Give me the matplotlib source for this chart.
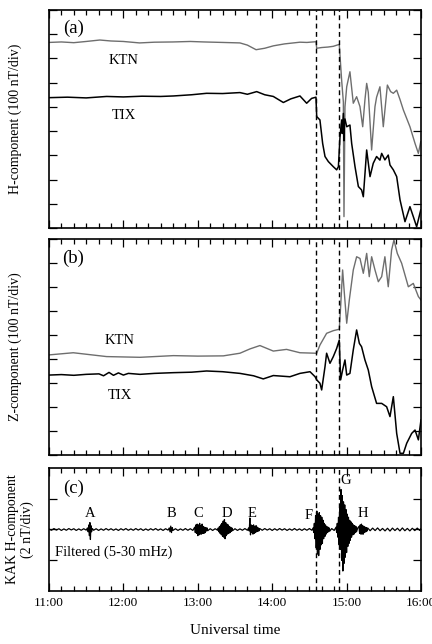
import numpy as np
import matplotlib.pyplot as plt
from matplotlib.ticker import MultipleLocator, FixedLocator

plt.rcParams['font.family'] = ['Liberation Serif', 'DejaVu Serif']

# ---------------------------
# data (minutes after 11:00 UT, values in divisions / nT)
# ---------------------------

ktn_h_t = [0, 10, 20, 30, 41, 50, 60, 73, 85, 100, 114, 125, 140, 154, 160, 167, 174, 181,
           190, 202.4, 208, 215.3, 215.9, 220, 225, 229.3, 234.1, 236.0, 237.4, 237.9, 238.7,
           240.1, 242.7, 245.4, 248.1, 250.8, 253.0, 254.8, 256.2, 257.5, 260.2, 262.9,
           264.2, 266.9, 269.6, 272.9, 275.5, 277.7, 280.4, 283.1, 285.8, 291.1, 295.2,
           297.9, 299.8]
ktn_h_v = [7.66, 7.68, 7.65, 7.70, 7.76, 7.72, 7.70, 7.64, 7.67, 7.68, 7.70, 7.68, 7.66, 7.64,
           7.55, 7.36, 7.42, 7.52, 7.60, 7.67, 7.66, 7.69, 7.42, 7.45, 7.47, 7.50, 7.58,
           6.11, 5.20, 0.47, 5.00, 5.83, 6.45, 5.15, 5.42, 5.01, 4.18, 5.29, 5.97, 5.60,
           3.22, 5.01, 5.40, 5.83, 4.18, 5.90, 5.63, 5.56, 5.69, 5.30, 4.87, 4.18, 3.49,
           3.08, 3.56]

tix_h_t = [0, 15, 30, 46.5, 60, 75, 90, 100.3, 115, 127.1, 140, 154, 160, 167.5, 174, 180.9,
           189, 195, 202.4, 207.8, 211.8, 215.3, 215.9, 218.5, 220.7, 222.6, 225.3, 229.3,
           232.0, 233.4, 234.7, 236.0, 236.5, 237.4, 237.9, 238.2, 238.7, 240.1, 242.7,
           244.1, 246.8, 249.5, 252.1, 253.5, 256.2, 258.9, 261.5, 264.2, 266.9, 268.3,
           270.9, 273.6, 275.0, 277.7, 280.4, 283.1, 287.1, 291.1, 293.8, 296.5, 299.8]
tix_h_v = [5.38, 5.40, 5.37, 5.43, 5.41, 5.44, 5.43, 5.45, 5.50, 5.56, 5.55, 5.59, 5.52, 5.63,
           5.50, 5.43, 5.18, 5.33, 5.45, 5.15, 5.35, 5.40, 4.60, 4.46, 3.49, 2.95, 2.74,
           2.53, 2.40, 2.53, 3.77, 4.46, 3.90, 4.73, 3.60, 4.32, 4.50, 4.18, 4.25, 3.49,
           2.53, 1.71, 1.57, 1.29, 3.22, 2.12, 2.67, 2.95, 2.80, 3.08, 2.81, 3.01, 2.60,
           2.40, 2.12, 1.16, 0.26, 0.88, 0.47, 0.05, 0.74]

ktn_z_t = [0, 19.6, 46.5, 73.4, 100.3, 120, 140.6, 154, 162.1, 170.1, 180.9, 191.6, 202.4,
           215.3, 215.9, 218.5, 223.9, 229.3, 234.1, 235.2, 236.8, 238.2, 240.1, 242.2,
           245.4, 248.1, 250.8, 253.5, 256.2, 258.3, 260.2, 262.9, 265.6, 268.3, 270.9,
           273.6, 276.3, 278.2, 280.9, 284.4, 289.8, 293.8, 297.9, 300]
ktn_z_v = [4.17, 4.26, 4.10, 4.07, 4.14, 4.12, 4.13, 4.24, 4.42, 4.56, 4.33, 4.40, 4.26,
           4.24, 4.24, 4.58, 5.07, 5.18, 5.24, 6.18, 7.71, 6.74, 5.49, 6.46, 7.71, 8.26,
           8.19, 7.57, 8.40, 7.43, 8.26, 7.71, 7.22, 7.43, 8.26, 7.01, 8.54, 8.96, 8.40,
           7.99, 7.01, 7.15, 6.60, 6.46]

tix_z_t = [0, 10, 20, 30, 40.3, 44, 48.4, 52, 56, 60, 64, 73.4, 85, 100.3, 115, 127.1, 140,
           154, 165, 172.8, 180.9, 194.3, 202.4, 210.5, 214.6, 215.9, 218.5, 219.9, 222.6,
           223.9, 226.6, 229.3, 232.0, 234.1, 235.2, 236.8, 238.7, 240.1, 242.7, 245.4,
           248.1, 250.3, 252.1, 254.8, 257.5, 260.2, 264.2, 268.3, 272.3, 275.0, 277.7,
           280.4, 283.1, 285.8, 288.5, 292.5, 295.2, 297.9, 300]
tix_z_v = [3.33, 3.35, 3.32, 3.36, 3.38, 3.30, 3.44, 3.32, 3.42, 3.33, 3.40, 3.36, 3.40,
           3.43, 3.45, 3.50, 3.47, 3.40, 3.30, 3.17, 3.31, 3.26, 3.40, 3.47, 3.26, 3.13,
           2.99, 2.71, 3.68, 4.24, 3.82, 4.10, 4.44, 4.79, 3.13, 3.54, 3.96, 3.33, 3.40,
           4.38, 5.21, 4.65, 4.51, 3.96, 3.54, 2.85, 2.15, 2.15, 2.01, 1.60, 2.43, 0.90,
           0.07, 0.07, 0.49, 0.90, 1.04, 0.63, 1.46]

kak_t = [0, 2, 4, 6, 8, 10, 12, 14, 16, 18, 20, 22, 24, 26, 28, 30,
         31, 31.6, 32.2, 32.6, 33.0, 33.4, 33.8, 34.3, 35,
         36, 38, 40, 42, 44, 46, 48, 50, 52, 54, 56, 58, 60, 62, 64, 66, 68, 70, 72, 74, 76,
         78, 80, 82, 84, 86, 88, 90, 92, 94, 96,
         97, 97.6, 98.2, 98.8, 99.4, 100,
         102, 104, 106, 108, 110, 112, 114, 116,
         117.5, 118, 118.5, 119, 119.5, 120, 120.5, 121, 121.5, 122, 122.5, 123, 123.5, 124,
         124.5, 125, 125.5, 126, 126.5, 127, 127.5, 128,
         130, 132, 134, 136,
         136.5, 137, 137.5, 138, 138.5, 139, 139.5, 140, 140.5, 141, 141.5, 142, 142.5, 143,
         143.5, 144, 144.5, 145, 145.5, 146, 146.5, 147, 147.5, 148,
         150, 152, 154, 156, 158, 160,
         161, 161.5, 162, 162.5, 163, 163.5, 164, 164.5, 165, 165.5, 166, 166.5, 167, 167.5,
         168, 168.5, 169, 169.5, 170,
         172, 174, 176, 178, 180, 182, 184, 186, 188, 190, 192, 194, 196, 198, 200, 202, 204,
         206, 208, 210, 212,
         213, 213.5, 214, 214.5, 215, 215.5, 216, 216.5, 217, 217.5, 218, 218.5, 219, 219.5,
         220, 220.5, 221, 221.5, 222, 222.5, 223, 223.5, 224, 224.5, 225, 225.5, 226, 226.5,
         228, 230,
         231.5, 232, 232.5, 233, 233.5, 234, 234.5, 235, 235.5, 236, 236.5, 237, 237.5, 238,
         238.5, 239, 239.5, 240, 240.5, 241, 241.5, 242, 242.5, 243, 243.5, 244, 244.5, 245,
         245.5, 246, 246.5, 247, 247.5, 248,
         249,
         250, 250.5, 251, 251.5, 252, 252.5, 253, 253.5, 254, 254.5, 255, 255.5, 256, 256.5,
         257,
         259, 261, 263, 265, 267, 269, 271, 273, 275, 277, 279, 281, 283, 285, 287, 289, 291,
         293, 295, 297, 299, 300]
kak_v = [0.03, -0.05, 0.06, -0.04, 0.05, -0.06, 0.04, -0.05, 0.06, -0.03, 0.05, -0.06, 0.04,
         -0.05, 0.05, -0.04,
         0.1, -0.15, 0.3, -0.4, 0.45, -0.65, 0.25, -0.15, 0.06,
         -0.05, 0.05, -0.06, 0.04, -0.05, 0.06, -0.04, 0.05, -0.05, 0.04, -0.06, 0.05, -0.04,
         0.06, -0.05, 0.04, -0.05, 0.06, -0.04, 0.05, -0.06, 0.04, -0.05, 0.05, -0.04, 0.06,
         -0.05, 0.04, -0.06, 0.05, -0.04,
         0.1, -0.15, 0.22, -0.2, 0.12, -0.06,
         0.05, -0.06, 0.04, -0.05, 0.06, -0.05, 0.05, -0.06,
         0.15, -0.2, 0.3, -0.25, 0.35, -0.4, 0.3, -0.35, 0.4, -0.3, 0.25, -0.3, 0.35, -0.25,
         0.2, -0.25, 0.15, -0.2, 0.12, -0.1, 0.1, -0.08,
         0.05, -0.06, 0.05, -0.05,
         0.1, -0.15, 0.2, -0.25, 0.3, -0.35, 0.4, -0.45, 0.55, -0.5, 0.65, -0.6, 0.45, -0.4,
         0.35, -0.3, 0.3, -0.25, 0.2, -0.2, 0.15, -0.12, 0.1, -0.08,
         0.05, -0.06, 0.04, -0.05, 0.06, -0.05,
         0.1, -0.1, 0.75, -0.35, 0.3, -0.2, 0.25, -0.3, 0.3, -0.25, 0.2, -0.2, 0.25, -0.15,
         0.15, -0.12, 0.1, -0.08, 0.06,
         -0.05, 0.06, -0.04, 0.05, -0.06, 0.05, -0.05, 0.06, -0.04, 0.05, -0.06, 0.04, -0.05,
         0.06, -0.05, 0.04, -0.06, 0.05, -0.05, 0.06, -0.05,
         0.1, -0.2, 0.4, -0.6, 0.9, -1.2, 1.2, -1.6, 1.0, -1.7, 1.1, -1.3, 0.9, -1.0, 0.8,
         -0.9, 0.6, -0.6, 0.4, -0.45, 0.3, -0.3, 0.2, -0.2, 0.15, -0.15, 0.1, -0.1,
         0.06, -0.06,
         0.15, -0.2, 0.4, -0.5, 0.8, -1.0, 1.5, -1.3, 2.6, -2.0, 2.2, -2.7, 1.8, -2.2, 1.6,
         -1.8, 1.3, -1.5, 1.0, -1.1, 0.8, -0.9, 0.6, -0.7, 0.5, -0.5, 0.4, -0.35, 0.3, -0.3,
         0.25, -0.2, 0.2, -0.15,
         0.1,
         0.2, -0.25, 0.3, -0.3, 0.35, -0.3, 0.25, -0.3, 0.2, -0.2, 0.15, -0.15, 0.12, -0.1,
         0.1,
         -0.08, 0.09, -0.07, 0.1, -0.08, 0.07, -0.09, 0.08, -0.1, 0.09, -0.07, 0.08, -0.09,
         0.1, -0.08, 0.07, -0.09, 0.08, -0.07, 0.09, -0.06, 0.05]

event_min = [215.3, 233.9]
burst_labels = ['A', 'B', 'C', 'D', 'E', 'F', 'G', 'H']
burst_min = [33.1, 98.9, 120.4, 143.2, 163.4, 209.2, 239.6, 253.0]
burst_y = [1.04, 1.04, 1.04, 1.04, 1.04, 0.9, 3.2, 1.04]

hour_ticks = [11, 12, 13, 14, 15, 16]
hour_labels = ['11:00', '12:00', '13:00', '14:00', '15:00', '16:00']


def hrs(m):
    return 11 + np.asarray(m) / 60.0


# ---------------------------
# figure
# ---------------------------

fig = plt.figure(figsize=(4.32, 6.44), dpi=100)
ax_a = fig.add_axes([0.1134, 0.6460, 0.8611, 0.3385])
ax_b = fig.add_axes([0.1134, 0.2935, 0.8611, 0.3354])
ax_c = fig.add_axes([0.1134, 0.0823, 0.8611, 0.1910])

gray = '#6e6e6e'

ax_a.plot(hrs(ktn_h_t), ktn_h_v, color=gray, lw=1.0)
ax_a.plot(hrs(tix_h_t), tix_h_v, color='black', lw=1.1)
ax_b.plot(hrs(ktn_z_t), ktn_z_v, color=gray, lw=1.0)
ax_b.plot(hrs(tix_z_t), tix_z_v, color='black', lw=1.1)
ax_c.plot(hrs(kak_t), kak_v, color='black', lw=0.9)

for ax in (ax_a, ax_b):
    ax.set_ylim(0, 9)
    ax.yaxis.set_major_locator(MultipleLocator(1))
ax_c.set_ylim(-4, 4)
ax_c.yaxis.set_major_locator(FixedLocator([-2, 0, 2]))

for ax in (ax_a, ax_b, ax_c):
    ax.set_xlim(11, 16)
    ax.xaxis.set_major_locator(FixedLocator(hour_ticks))
    ax.xaxis.set_minor_locator(MultipleLocator(1 / 6))
    ax.tick_params(which='both', direction='in', top=True, right=True, width=0.9)
    ax.tick_params(which='major', length=6)
    ax.tick_params(which='minor', length=3.5)
    ax.set_yticklabels([])
    for s in ax.spines.values():
        s.set_linewidth(1.2)
    for m in event_min:
        ax.axvline(hrs(m), color='black', lw=1.0, ls=(0, (3.5, 2.5)))

ax_a.set_xticklabels([])
ax_b.set_xticklabels([])
ax_c.set_xticklabels(hour_labels, fontsize=9.5)
ax_c.tick_params(axis='x', pad=4.5)

ax_a.text(hrs(19.6), 8.24, '(a)', fontsize=13.5, ha='center', va='center')
ax_a.text(hrs(59.9), 6.9, 'KTN', fontsize=10.5, ha='center', va='center')
ax_a.text(hrs(60.7), 4.63, 'TIX', fontsize=10.5, ha='center', va='center')
ax_b.text(hrs(19.6), 8.19, '(b)', fontsize=13.5, ha='center', va='center')
ax_b.text(hrs(57.3), 4.79, 'KTN', fontsize=10.5, ha='center', va='center')
ax_b.text(hrs(57.3), 2.47, 'TIX', fontsize=10.5, ha='center', va='center')
ax_c.text(hrs(19.6), 2.7, '(c)', fontsize=13.5, ha='center', va='center')
ax_c.text(hrs(4.5), -1.45, 'Filtered (5-30 mHz)', fontsize=10.5, ha='left', va='center')
for lab, m, y in zip(burst_labels, burst_min, burst_y):
    ax_c.text(hrs(m), y, lab, fontsize=10.5, ha='center', va='center')

fig.text(0.035, 0.815, 'H-component (100 nT/div)', rotation=90, fontsize=10,
         ha='center', va='center')
fig.text(0.035, 0.461, 'Z-component (100 nT/div)', rotation=90, fontsize=10,
         ha='center', va='center')
fig.text(0.028, 0.178, 'KAK H-component', rotation=90, fontsize=10,
         ha='center', va='center')
fig.text(0.064, 0.178, '(2 nT/div)', rotation=90, fontsize=10,
         ha='center', va='center')
fig.text(0.544, 0.0217, 'Universal time', fontsize=11, ha='center', va='center')

fig.savefig('out.png', dpi=100)
